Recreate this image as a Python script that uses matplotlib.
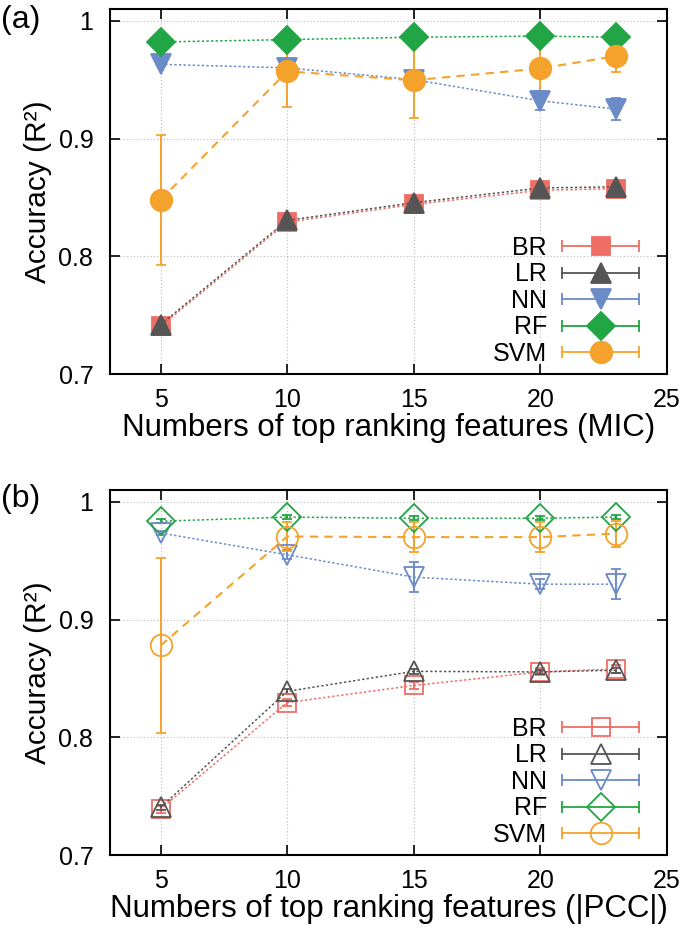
import matplotlib.pyplot as plt
from matplotlib import ticker
from matplotlib.lines import Line2D
from matplotlib.legend_handler import HandlerBase

plt.rcParams['font.family'] = ['Liberation Sans', 'DejaVu Sans']

features = [5, 10, 15, 20, 23]
models = ['BR', 'LR', 'NN', 'RF', 'SVM']
y_ticks = [0.7, 0.8, 0.9, 1.0]
x_ticks = [5, 10, 15, 20, 25]

# (a) MIC
mic_br = [0.7405, 0.829, 0.844, 0.856, 0.8575]
mic_lr = [0.742, 0.8305, 0.8455, 0.858, 0.859]
mic_nn = [0.963, 0.960, 0.950, 0.932, 0.925]
mic_rf = [0.982, 0.984, 0.986, 0.987, 0.986]
mic_svm = [0.848, 0.957, 0.9495, 0.9595, 0.970]
mic_br_err = [0.001, 0.001, 0.001, 0.001, 0.001]
mic_lr_err = [0.001, 0.001, 0.001, 0.001, 0.001]
mic_nn_err = [0.001, 0.002, 0.002, 0.008, 0.009]
mic_rf_err = [0.001, 0.001, 0.001, 0.001, 0.001]
mic_svm_err = [0.055, 0.030, 0.032, 0.028, 0.0135]

# (b) |PCC|
pcc_br = [0.739, 0.8295, 0.844, 0.8555, 0.858]
pcc_lr = [0.7405, 0.839, 0.856, 0.8555, 0.857]
pcc_nn = [0.9735, 0.955, 0.936, 0.930, 0.930]
pcc_rf = [0.9835, 0.987, 0.986, 0.986, 0.987]
pcc_svm = [0.878, 0.9705, 0.970, 0.970, 0.973]
pcc_br_err = [0.003, 0.003, 0.003, 0.003, 0.003]
pcc_lr_err = [0.002, 0.002, 0.002, 0.002, 0.002]
pcc_nn_err = [0.002, 0.004, 0.0125, 0.004, 0.0128]
pcc_rf_err = [0.0015, 0.0015, 0.0015, 0.0015, 0.0015]
pcc_svm_err = [0.074, 0.012, 0.0128, 0.0128, 0.011]

colors = {'BR': '#EE6E66', 'LR': '#555555', 'NN': '#6A8AC8',
          'RF': '#22A544', 'SVM': '#F5A22C'}
markers = {'BR': 's', 'LR': '^', 'NN': 'v', 'RF': 'D', 'SVM': 'o'}
msizes = {'BR': 13, 'LR': 15, 'NN': 15, 'RF': 14.5, 'SVM': 15.5}


class ErrLegend(HandlerBase):
    # gnuplot style key: horizontal bar with end caps and marker in the middle
    def create_artists(self, legend, orig, xd, yd, w, h, fs, trans):
        y = h / 2 - yd
        x0, x1 = -xd, w - xd
        c = orig.get_color()
        bar = Line2D([x0, x1], [y, y], color=c, lw=1.3)
        caps = Line2D([x0, x1], [y, y], ls='none', marker='|', ms=8, mew=1.3, color=c)
        mk = Line2D([(x0 + x1) / 2], [y], ls='none', marker=orig.get_marker(),
                    ms=orig.get_markersize(), mfc=orig.get_markerfacecolor(),
                    mec=c, mew=orig.get_markeredgewidth())
        for a in (bar, caps, mk):
            a.set_transform(trans)
        return [bar, caps, mk]


def draw_panel(ax, series, errs, filled, xlabel):
    proxies = []
    for m in models:
        c = colors[m]
        ls = (0, (4, 3)) if m == 'SVM' else (0, (1.5, 1.5))
        lw = 1.5 if m == 'SVM' else 1.1
        mfc = c if filled else 'none'
        ax.errorbar(features, series[m], yerr=errs[m], color=c, ls=ls, lw=lw,
                    marker=markers[m], ms=msizes[m], mfc=mfc, mec=c, mew=1.3,
                    ecolor=c, elinewidth=1.4, capsize=3.5, capthick=1.4)
        proxies.append(Line2D([], [], color=c, marker=markers[m], ms=msizes[m],
                              mfc=mfc, mew=1.3))
    ax.set_xlim(3, 25)
    ax.set_ylim(0.7, 1.01)
    ax.set_xticks(x_ticks)
    ax.set_yticks(y_ticks)
    ax.yaxis.set_major_formatter(ticker.FuncFormatter(lambda v, p: f'{v:g}'))
    ax.tick_params(direction='in', length=7, width=1.2, top=True, right=True,
                   labelsize=18)
    ax.tick_params(axis='y', pad=12)
    ax.tick_params(axis='x', pad=10)
    ax.grid(True, color='#BBBBBB', ls=(0, (1, 2)), lw=0.8)
    for s in ax.spines.values():
        s.set_linewidth(1.5)
    ax.set_xlabel(xlabel, fontsize=22.5, labelpad=1)
    ax.set_ylabel('Accuracy (R²)', fontsize=21.5, labelpad=5)
    ax.legend(proxies, models, handler_map={Line2D: ErrLegend()}, loc='lower right',
              bbox_to_anchor=(0.973, -0.012), frameon=False, markerfirst=False,
              fontsize=18, labelspacing=0.1, handlelength=3.1, handletextpad=0.6,
              borderpad=0)


fig = plt.figure(figsize=(6.85, 9.36), dpi=100)
ax1 = fig.add_axes([0.1606, 0.6004, 0.813, 0.390])
ax2 = fig.add_axes([0.1606, 0.0865, 0.813, 0.390])

draw_panel(ax1,
           {'BR': mic_br, 'LR': mic_lr, 'NN': mic_nn, 'RF': mic_rf, 'SVM': mic_svm},
           {'BR': mic_br_err, 'LR': mic_lr_err, 'NN': mic_nn_err, 'RF': mic_rf_err,
            'SVM': mic_svm_err},
           True, 'Numbers of top ranking features (MIC)')
draw_panel(ax2,
           {'BR': pcc_br, 'LR': pcc_lr, 'NN': pcc_nn, 'RF': pcc_rf, 'SVM': pcc_svm},
           {'BR': pcc_br_err, 'LR': pcc_lr_err, 'NN': pcc_nn_err, 'RF': pcc_rf_err,
            'SVM': pcc_svm_err},
           False, 'Numbers of top ranking features (|PCC|)')

fig.text(0.002, 0.979, '(a)', fontsize=23, va='center', ha='left')
fig.text(0.002, 0.467, '(b)', fontsize=23, va='center', ha='left')

fig.savefig('out.png', dpi=100)
